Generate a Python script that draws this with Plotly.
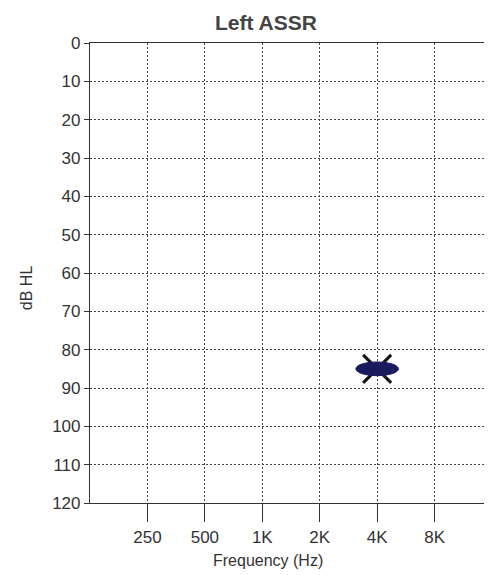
import numpy as np
import plotly.graph_objects as go

# Data
freq_labels = ["250", "500", "1K", "2K", "4K", "8K"]
freq_values = [250, 500, 1000, 2000, 4000, 8000]
db_ticks = [0, 10, 20, 30, 40, 50, 60, 70, 80, 90, 100, 110, 120]
assr_freq = [4000]
assr_db = [85]

xt = [np.log2(f) for f in freq_values]
px = [np.log2(f) for f in assr_freq]

fig = go.Figure()

# black "x" legs of the symbol
fig.add_trace(go.Scatter(
    x=px, y=assr_db, mode="markers",
    marker=dict(symbol="x-thin-open", size=28, color="#111", line=dict(color="#111", width=3)),
    showlegend=False, hoverinfo="skip"))

# filled elliptical blob (computed from data)
for xv, yv in zip(px, assr_db):
    fig.add_shape(type="circle", xref="x", yref="y",
                  x0=xv - 0.37, x1=xv + 0.37, y0=yv - 1.8, y1=yv + 1.8,
                  fillcolor="#1c1a5e", line=dict(color="#1c1a5e", width=1), layer="above")

fig.update_layout(
    width=492, height=575,
    margin=dict(l=82, r=8, t=35, b=80),
    paper_bgcolor="white", plot_bgcolor="white",
    font=dict(family="Liberation Sans, Arial, sans-serif", color="#333", size=16),
    showlegend=False,
    annotations=[
        dict(text="<b>Left ASSR</b>", xref="paper", yref="paper", x=0.438, y=1.0,
             yanchor="middle", yshift=21, showarrow=False, font=dict(size=21, color="#444")),
        dict(text="Frequency (Hz)", xref="paper", yref="paper", x=0.443, y=0,
             yanchor="middle", yshift=-57, showarrow=False, font=dict(size=16, color="#333")),
        dict(text="dB HL", xref="paper", yref="paper", x=0, xshift=-64, y=0.467,
             xanchor="center", yanchor="middle",
             textangle=-90, showarrow=False, font=dict(size=16, color="#333")),
    ],
)

fig.update_xaxes(
    range=[np.log2(125), np.log2(16000)],
    tickvals=xt, ticktext=freq_labels,
    ticks="outside", ticklen=18, tickcolor="#333", tickwidth=1,
    showline=True, linecolor="#333", linewidth=1.2, mirror=True,
    showgrid=True, gridcolor="#444", griddash="2px,2px", gridwidth=1,
    zeroline=False, tickfont=dict(size=17, color="#333"),
)
fig.update_yaxes(
    range=[120, 0], tickvals=db_ticks,
    ticks="outside", ticklen=5, tickcolor="#333", tickwidth=1,
    showline=True, linecolor="#333", linewidth=1.2, mirror=False,
    showgrid=True, gridcolor="#444", griddash="2px,2px", gridwidth=1,
    zeroline=False, tickfont=dict(size=17, color="#333"),
)

fig.write_html("out.html")
